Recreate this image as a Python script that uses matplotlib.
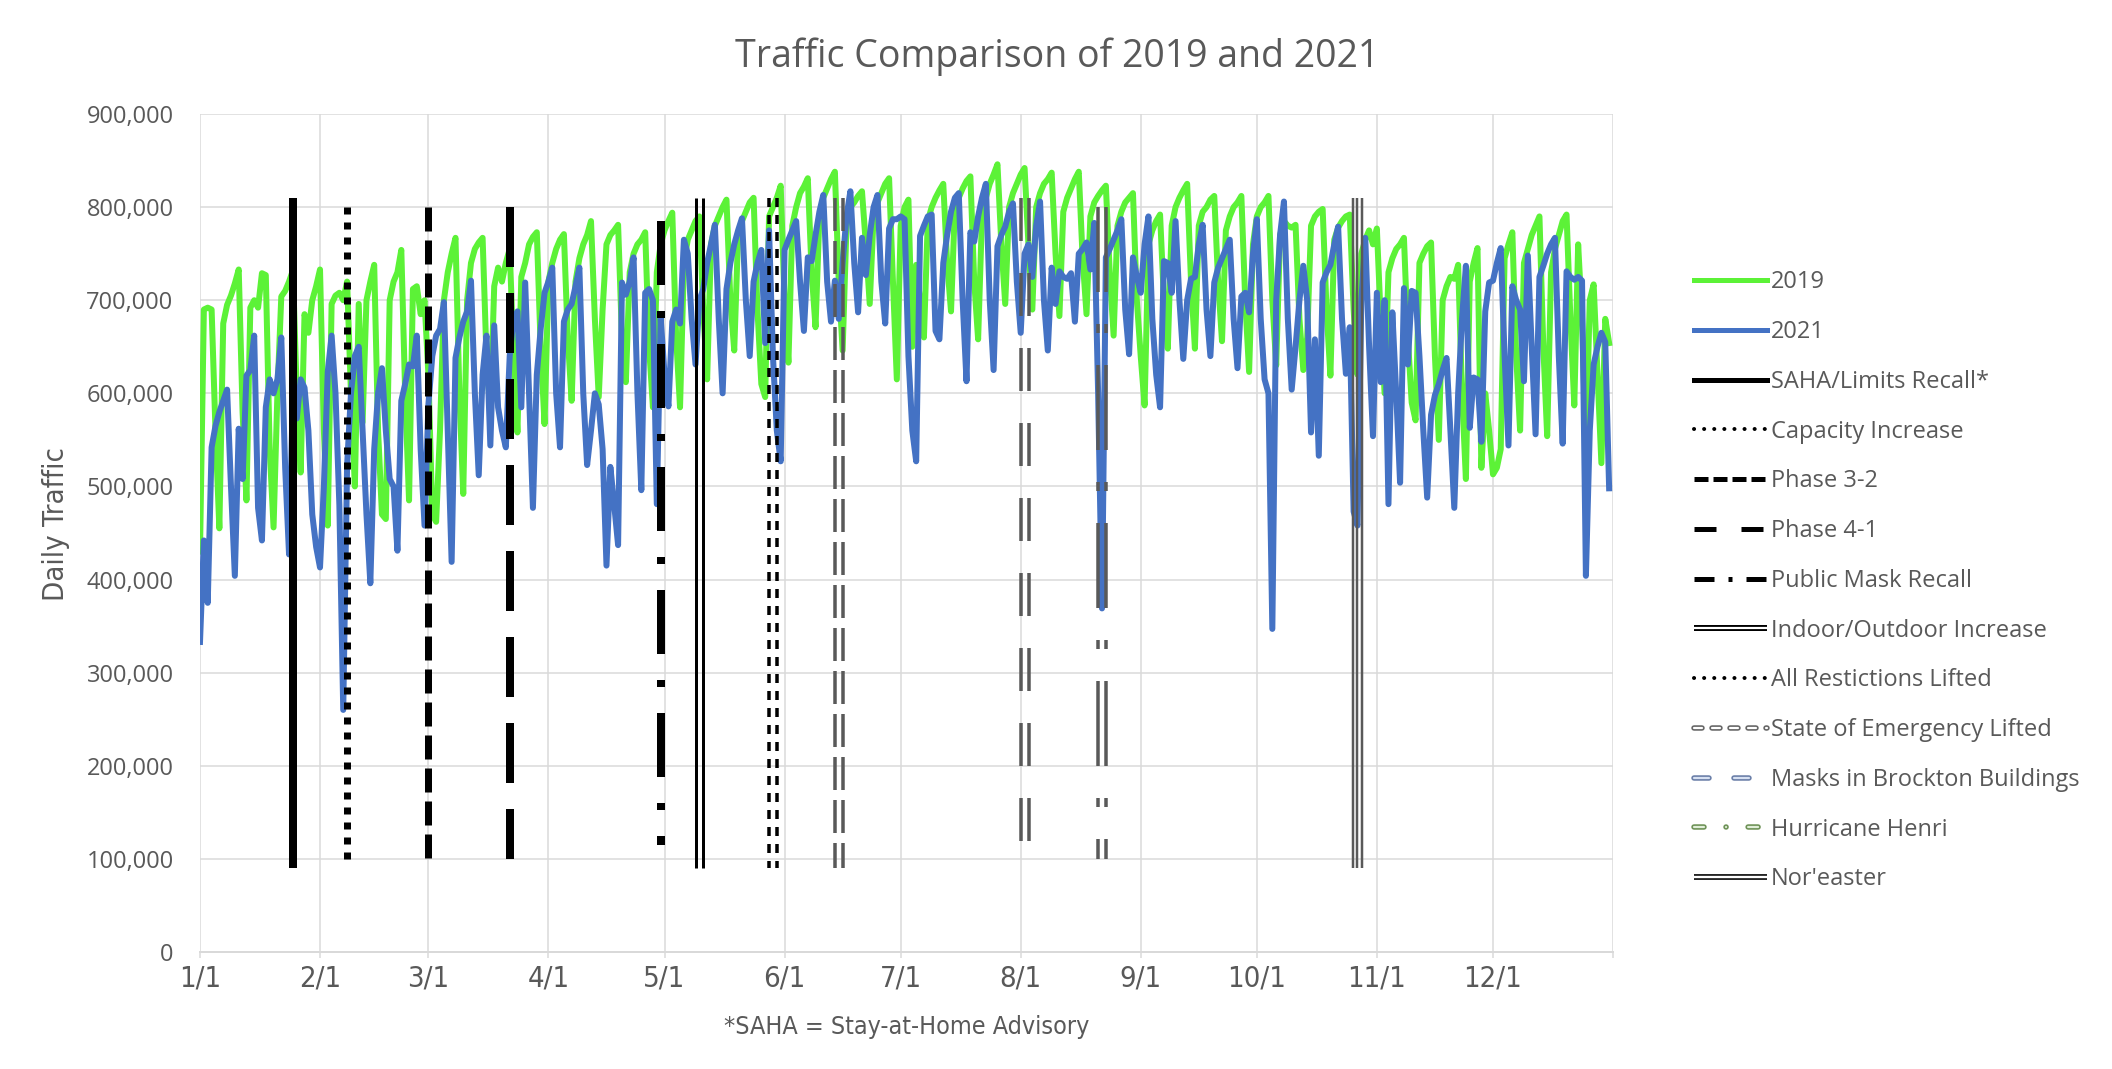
import datetime as dt

import matplotlib
matplotlib.use('Agg')
import matplotlib.pyplot as plt
import matplotlib.transforms as mtransforms
import matplotlib.patheffects as pe
from matplotlib import font_manager as fm
from matplotlib.lines import Line2D
from matplotlib.ticker import FuncFormatter
import numpy as np

plt.rcParams['lines.scale_dashes'] = False  # dash patterns in points

# daily traffic, thousands of vehicles, 1 Jan .. 31 Dec (one list per month)
traffic_2019 = (
    [430, 690, 692, 690, 560, 455, 675, 695, 705, 718, 733, 580, 485, 692, 700, 692,
     729, 727, 540, 456, 600, 704, 710, 720, 732, 600, 515, 685, 665, 700, 715] +
    [733, 560, 458, 696, 705, 708, 700, 720, 600, 500, 696, 569, 700, 720, 738, 560,
     470, 465, 700, 720, 730, 754, 600, 485, 712, 715, 685, 700] +
    [620, 470, 462, 560, 700, 730, 750, 767, 600, 492, 700, 740, 755, 762, 767, 640,
     580, 715, 735, 720, 740, 755, 640, 558, 725, 740, 760, 768, 773, 650, 567] +
    [720, 740, 755, 765, 771, 660, 592, 720, 745, 760, 770, 785, 680, 596, 690, 760,
     770, 775, 781, 660, 612, 730, 750, 760, 765, 773, 650, 585, 730, 760] +
    [775, 785, 794, 660, 585, 740, 765, 775, 785, 790, 690, 615, 760, 780, 790, 800,
     808, 700, 646, 770, 785, 795, 805, 810, 690, 610, 596, 790, 800, 810, 823] +
    [700, 633, 780, 800, 815, 822, 831, 730, 671, 790, 810, 820, 830, 838, 720, 646,
     780, 800, 805, 812, 817, 760, 696, 790, 805, 815, 825, 831, 720, 615] +
    [780, 800, 808, 650, 738, 700, 660, 785, 800, 810, 818, 825, 740, 688, 800, 810,
     820, 828, 833, 720, 658, 790, 810, 825, 835, 846, 760, 696, 800, 815, 825] +
    [835, 842, 760, 690, 800, 815, 825, 830, 837, 750, 683, 795, 810, 820, 830, 838,
     745, 685, 790, 805, 812, 818, 823, 730, 662, 780, 795, 805, 810, 815, 700] +
    [640, 587, 760, 775, 785, 792, 700, 648, 780, 800, 810, 818, 825, 720, 648, 780,
     795, 800, 808, 812, 720, 656, 775, 790, 800, 805, 812, 700, 623, 760] +
    [790, 800, 805, 812, 700, 630, 770, 785, 780, 778, 781, 680, 625, 660, 780, 790,
     795, 798, 690, 619, 765, 778, 785, 790, 792, 690, 620, 750, 765, 775, 760] +
    [777, 680, 600, 730, 745, 755, 760, 767, 660, 590, 571, 740, 750, 758, 762, 640,
     550, 700, 715, 725, 723, 738, 600, 508, 720, 740, 756, 520, 600, 560] +
    [513, 520, 540, 745, 760, 773, 640, 560, 740, 755, 770, 780, 790, 650, 554, 730,
     755, 770, 785, 792, 680, 587, 760, 680, 540, 700, 717, 620, 525, 680, 654]
)

traffic_2021 = (
    [333, 442, 375, 542, 565, 580, 592, 604, 500, 404, 562, 508, 619, 625, 662, 477,
     442, 585, 615, 600, 615, 660, 520, 427, 600, 573, 615, 606, 560, 470, 435] +
    [413, 500, 623, 662, 600, 480, 260, 523, 600, 640, 650, 560, 470, 396, 540, 600,
     627, 560, 508, 500, 431, 592, 610, 631, 629, 662, 540, 458] +
    [588, 640, 662, 669, 698, 560, 419, 638, 660, 677, 688, 721, 600, 512, 620, 662,
     544, 673, 585, 560, 542, 640, 681, 688, 585, 719, 600, 477, 620, 669, 708] +
    [720, 735, 600, 542, 677, 690, 696, 715, 735, 600, 523, 560, 600, 588, 540, 415,
     521, 480, 437, 719, 706, 720, 746, 600, 496, 708, 712, 700, 481, 681] +
    [620, 586, 677, 690, 675, 765, 750, 680, 631, 700, 712, 740, 760, 781, 680, 600,
     712, 740, 760, 775, 788, 700, 640, 720, 740, 754, 654, 775, 640, 560, 527] +
    [754, 765, 775, 785, 720, 667, 746, 742, 770, 795, 813, 720, 677, 721, 680, 740,
     790, 817, 740, 687, 767, 727, 770, 800, 813, 720, 675, 777, 787, 787] +
    [790, 787, 640, 560, 527, 769, 780, 790, 792, 667, 658, 740, 770, 795, 810, 815,
     700, 613, 773, 763, 790, 810, 825, 700, 625, 758, 770, 779, 795, 804, 720] +
    [665, 750, 760, 725, 780, 806, 700, 646, 735, 696, 731, 725, 723, 729, 677, 750,
     755, 762, 733, 783, 600, 369, 746, 755, 765, 775, 787, 690, 642, 746, 725] +
    [708, 760, 790, 680, 620, 585, 742, 740, 708, 785, 700, 637, 700, 723, 725, 760,
     781, 690, 640, 719, 735, 745, 755, 765, 680, 627, 704, 708, 687, 750] +
    [787, 680, 615, 600, 347, 700, 770, 806, 680, 604, 650, 700, 737, 700, 558, 658,
     533, 719, 730, 738, 760, 779, 680, 621, 671, 473, 458, 700, 767, 650, 554] +
    [708, 612, 700, 481, 687, 600, 504, 713, 631, 710, 708, 640, 560, 488, 577, 598,
     610, 625, 638, 560, 477, 600, 680, 737, 563, 617, 615, 548, 688, 719] +
    [721, 740, 756, 640, 544, 715, 700, 690, 613, 748, 650, 556, 725, 737, 750, 760,
     767, 640, 546, 731, 725, 722, 725, 721, 404, 560, 631, 650, 665, 655, 498]
)

series_names = ['2019', '2021']

# events (2021), vertical markers; extents in thousands
event_names = ['SAHA/Limits Recall*', 'Capacity Increase', 'Phase 3-2', 'Phase 4-1',
               'Public Mask Recall', 'Indoor/Outdoor Increase', 'All Restictions Lifted',
               'State of Emergency Lifted', 'Masks in Brockton Buildings',
               'Hurricane Henri', "Nor'easter"]
event_dates = ['2021-01-25', '2021-02-08', '2021-03-01', '2021-03-22', '2021-04-30',
               '2021-05-10', '2021-05-29', '2021-06-15', '2021-08-02', '2021-08-22',
               '2021-10-27']
event_low = [90, 100, 100, 100, 115, 90, 90, 90, 90, 100, 90]
event_high = [810, 800, 800, 800, 785, 810, 810, 810, 810, 800, 810]

month_labels = ['1/1', '2/1', '3/1', '4/1', '5/1', '6/1', '7/1', '8/1', '9/1',
                '10/1', '11/1', '12/1']

PX = 0.72  # pixel -> point at 100 dpi
GREEN = '#5CF237'
BLUE = '#4472C4'
GRAY = '#595959'
GRID = '#D9D9D9'


def pick_narrow(size):
    # a condensed sans for the Calibri-like labels, if one is installed
    cands = []
    for f in fm.fontManager.ttflist:
        tag = (f.name + ' ' + str(f.stretch)).lower()
        if ('narrow' in tag or 'condensed' in tag) and f.style == 'normal' \
                and str(f.weight) in ('400', 'normal', 'regular', 'book'):
            rank = 0 if 'liberation' in f.name.lower() else (1 if 'dejavu' in f.name.lower() else 2)
            cands.append((rank, f.fname))
    if cands:
        return fm.FontProperties(fname=sorted(cands)[0][1], size=size)
    return fm.FontProperties(family='Roboto', size=size - 1)


def px(seq):
    return tuple(v * PX for v in seq)


# chart line styles: colour, offsets of parallel strokes (px), width (px), dashes (px)
chart_style = [
    ('black', [0], 8, None),
    ('black', [0], 7, (7, 8)),
    ('black', [0], 7, (24, 9)),
    ('black', [0], 8, (60, 26)),
    ('black', [0], 8, (64, 26, 7, 26)),
    ('black', [-3.7, 3.7], 3, None),
    ('black', [-4, 4], 3.5, (9, 8)),
    (GRAY, [-4, 4], 3.5, (33, 10)),
    (GRAY, [-4, 4], 3.5, (43, 32)),
    (GRAY, [-4, 4], 3.5, (85, 32, 9, 32)),
    (GRAY, [-4.5, 0, 4.5], 2.5, None),
]

fig = plt.figure(figsize=(21.12, 10.69), dpi=100)
ax = fig.add_axes([200 / 2112, 1 - 952 / 1069, 1413 / 2112, 838 / 1069])

days = np.arange(len(traffic_2019))
ax.plot(days, np.array(traffic_2019) * 1000, color=GREEN, lw=6 * PX,
        solid_joinstyle='round', zorder=3)
ax.plot(days, np.array(traffic_2021) * 1000, color=BLUE, lw=6 * PX,
        solid_joinstyle='round', zorder=3)

start = dt.date(2021, 1, 1)
for date, lo, hi, (col, offs, lw, dash) in zip(event_dates, event_low, event_high, chart_style):
    d = (dt.date.fromisoformat(date) - start).days
    ls = '-' if dash is None else (0, px(dash))
    for off in offs:
        tr = ax.transData + mtransforms.ScaledTranslation(off / 100, 0, fig.dpi_scale_trans)
        ax.plot([d, d], [hi * 1000, lo * 1000], transform=tr, color=col, lw=lw * PX,
                linestyle=ls, solid_capstyle='butt', dash_capstyle='butt', zorder=4)

# axes
month_days = [(dt.date(2021, m, 1) - start).days for m in range(1, 13)]
ax.set_xlim(0, 365)
ax.set_ylim(0, 900000)
ax.set_xticks(month_days + [365])
ax.set_xticklabels(month_labels + [''], fontproperties=pick_narrow(21), color=GRAY)
ax.set_yticks(np.arange(0, 900001, 100000))
ax.yaxis.set_major_formatter(FuncFormatter(lambda v, p: f'{v:,.0f}'))
for lab in ax.get_yticklabels():
    lab.set_family('Open Sans')
    lab.set_fontsize(17)
    lab.set_color(GRAY)
ax.grid(True, color=GRID, lw=1.5 * PX, zorder=0)
ax.set_axisbelow(True)
for s in ['left', 'top', 'right']:
    ax.spines[s].set_visible(False)
ax.spines['bottom'].set_color(GRID)
ax.spines['bottom'].set_linewidth(2 * PX)
ax.tick_params(axis='y', length=0, pad=19)
ax.tick_params(axis='x', length=6 * PX, color=GRID, width=1.5 * PX, pad=5)

ax.set_ylabel('Daily Traffic', fontproperties=pick_narrow(21), color=GRAY)
ax.yaxis.set_label_coords(-0.092, 0.511)
ax.set_xlabel('*SAHA = Stay-at-Home Advisory', fontproperties=pick_narrow(18),
              color=GRAY, labelpad=16)

fig.text(0.5005, 1 - 57 / 1069, 'Traffic Comparison of 2019 and 2021', family='Open Sans',
         fontsize=27, color=GRAY, ha='center', va='center')


# legend proxies
def outlined(outer, inner, dash, w_out=6, w_in=2.2):
    ls = '-' if dash is None else (0, px(dash))
    return Line2D([], [], color=inner, lw=w_in * PX, linestyle=ls,
                  dash_capstyle='round', solid_capstyle='butt',
                  path_effects=[pe.Stroke(linewidth=w_out * PX, foreground=outer), pe.Normal()])


dots = dict(color='black', lw=4 * PX, linestyle=(0, px((0.1, 10))), dash_capstyle='round')
handles = [
    Line2D([], [], color=GREEN, lw=5 * PX),
    Line2D([], [], color=BLUE, lw=5 * PX),
    Line2D([], [], color='black', lw=5 * PX),
    Line2D([], [], **dots),
    Line2D([], [], color='black', lw=5 * PX, linestyle=(0, px((14, 5)))),
    Line2D([], [], color='black', lw=5 * PX, linestyle=(0, px((22, 25)))),
    Line2D([], [], color='black', lw=5 * PX, linestyle=(0, px((20, 14, 4, 14)))),
    outlined('black', 'white', None),
    Line2D([], [], **dots),
    outlined('#666666', 'white', (8, 10), 5.5),
    outlined('#6A7FA8', '#D6E0F2', (15, 25), 5.5),
    outlined('#6E9257', '#E0EED8', (10, 22, 0.1, 22), 5.5),
    outlined('#262626', 'white', None),
]
leg = fig.legend(handles, series_names + event_names, loc='upper left',
                 bbox_to_anchor=(1694 / 2112, 0.747), frameon=False,
                 prop={'family': 'Open Sans', 'size': 17}, labelcolor=GRAY,
                 handlelength=3.1, handletextpad=0.17, labelspacing=1.09,
                 borderpad=0, borderaxespad=0)

fig.savefig('out.png', dpi=100)
